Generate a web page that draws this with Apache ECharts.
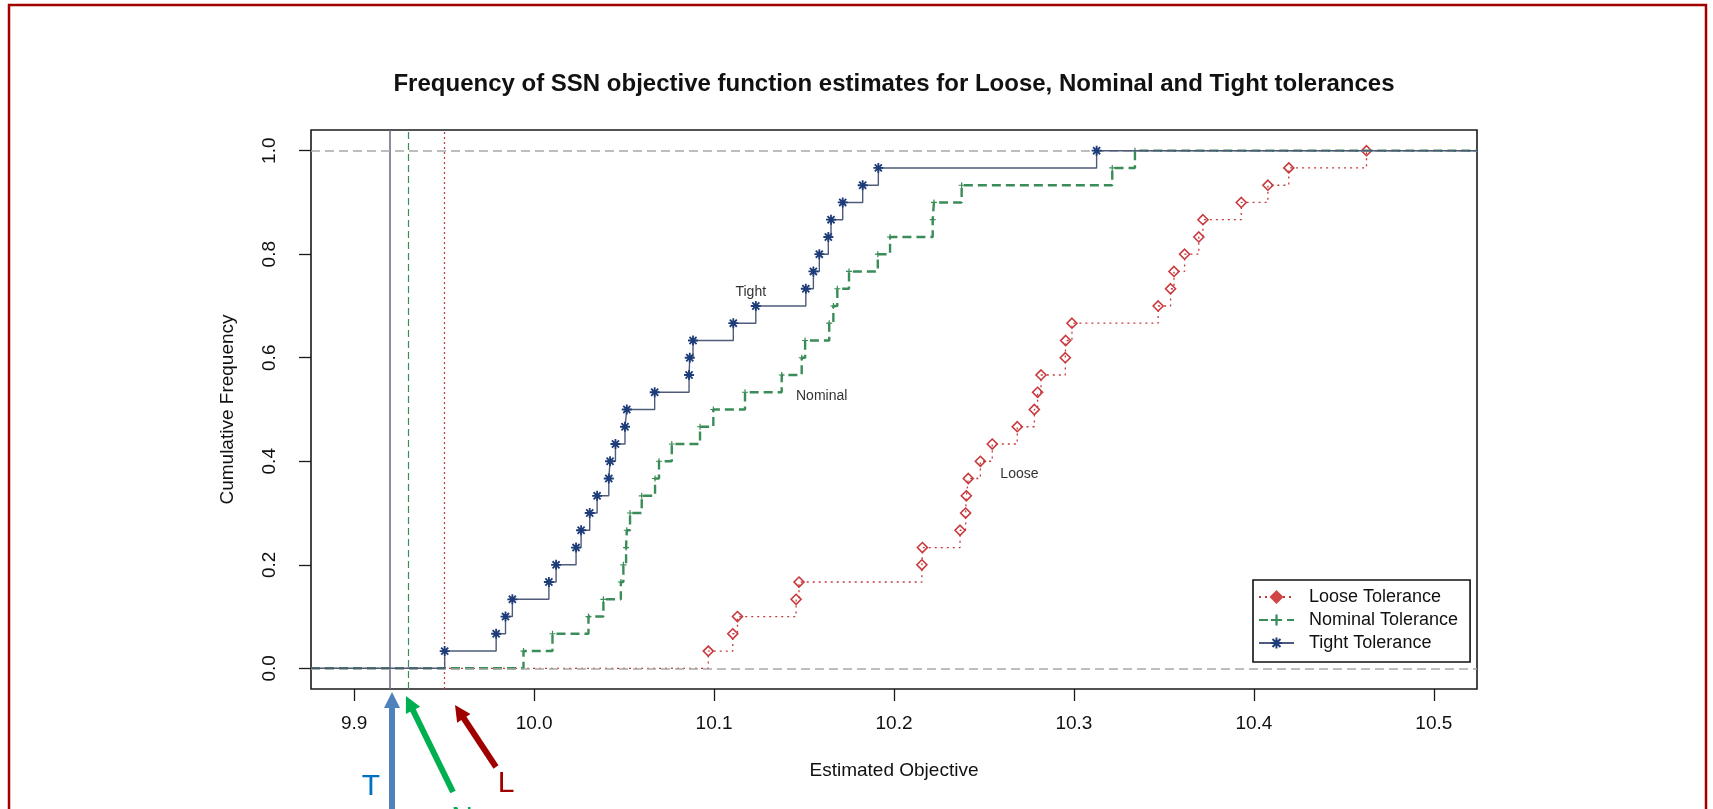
<!DOCTYPE html>
<html><head><meta charset="utf-8">
<script src="https://cdn.jsdelivr.net/npm/echarts@6/dist/echarts.min.js"></script>
<style>html,body{margin:0;padding:0;background:#fff}#c{width:1713px;height:809px}</style>
</head><body><div id="c"></div>
<script>
// ---------- data ----------
const titleText = 'Frequency of SSN objective function estimates for Loose, Nominal and Tight tolerances';
const xTicks = [9.9, 10.0, 10.1, 10.2, 10.3, 10.4, 10.5];
const yTicks = [0, 0.2, 0.4, 0.6, 0.8, 1.0];
const xRange = [9.876, 10.524];
const yRange = [-0.04, 1.04];
const cumFreq = [0.0333, 0.0667, 0.1, 0.1333, 0.1667, 0.2, 0.2333, 0.2667, 0.3, 0.3333,
                 0.3667, 0.4, 0.4333, 0.4667, 0.5, 0.5333, 0.5667, 0.6, 0.6333, 0.6667,
                 0.7, 0.7333, 0.7667, 0.8, 0.8333, 0.8667, 0.9, 0.9333, 0.9667, 1.0];
const looseX = [10.0968, 10.1104, 10.1130, 10.1456, 10.1472, 10.2155, 10.2158, 10.2367, 10.2398, 10.2402,
                10.2413, 10.2480, 10.2546, 10.2685, 10.2780, 10.2798, 10.2817, 10.2952, 10.2954, 10.2989,
                10.3468, 10.3537, 10.3556, 10.3615, 10.3694, 10.3717, 10.3930, 10.4078, 10.4194, 10.4626];
const nominalX = [9.9941, 10.0102, 10.0302, 10.0385, 10.0482, 10.0496, 10.0511, 10.0515, 10.0533, 10.0598,
                  10.0672, 10.0694, 10.0765, 10.0922, 10.0996, 10.1172, 10.1376, 10.1487, 10.1506, 10.1640,
                  10.1663, 10.1685, 10.1750, 10.1910, 10.1978, 10.2215, 10.2222, 10.2376, 10.3213, 10.3339];
const tightX = [9.9503, 9.9789, 9.9841, 9.9879, 10.0082, 10.0122, 10.0233, 10.0261, 10.0309, 10.0350,
                10.0415, 10.0422, 10.0452, 10.0505, 10.0515, 10.0670, 10.0861, 10.0865, 10.0883, 10.1107,
                10.1232, 10.1510, 10.1552, 10.1585, 10.1635, 10.1650, 10.1715, 10.1826, 10.1913, 10.3126];
const seriesNames = ['Loose Tolerance', 'Nominal Tolerance', 'Tight Tolerance'];
const curveLabels = ['Loose', 'Nominal', 'Tight'];
const curveLabelPos = [[10.2697, 0.375], [10.1598, 0.525], [10.1204, 0.727]];
const startLines = [9.951, 9.9274, 9.923];   // L, N, T vertical reference lines
const arrowLetters = ['T', 'N', 'L'];
const refLevels = [0, 1];
const axisNames = ['Estimated Objective', 'Cumulative Frequency'];

// ---------- styling ----------
const FONT = '"Liberation Sans", Arial, Helvetica, sans-serif';
const colLooseLine = '#c23a3a', colLooseMark = '#c8383c';
const colNomLine = '#3a8c58', colNomMark = '#3a8c58';
const colTightLine = '#4e5b7a', colTightMark = '#1d3c78';
const starPath = 'path://M-0.9,-5L0.9,-5L0.9,5L-0.9,5Z M-5,-0.9L5,-0.9L5,0.9L-5,0.9Z ' +
  'M-2.9,-4.18L4.18,2.9L2.9,4.18L-4.18,-2.9Z M-4.18,2.9L2.9,-4.18L4.18,-2.9L-2.9,4.18Z';
const plusPath = 'path://M-0.8,-4L0.8,-4L0.8,4L-0.8,4Z M-4,-0.8L4,-0.8L4,0.8L-4,0.8Z';

function ecdfData(xs) {
  const d = [{ value: [xRange[0], 0], symbol: 'none' }];
  xs.forEach((x, i) => d.push([x, cumFreq[i]]));
  d.push({ value: [xRange[1], cumFreq[cumFreq.length - 1]], symbol: 'none' });
  return d;
}

const chart = echarts.init(document.getElementById('c'), null, { renderer: 'canvas' });
const option = {
  animation: false,
  backgroundColor: '#ffffff',
  title: {
    text: titleText, left: 894, top: 72, textAlign: 'center', padding: 0,
    textStyle: { fontFamily: FONT, fontSize: 24, fontWeight: 'bold', color: '#111' }
  },
  grid: { left: 311, top: 130, width: 1166, height: 559, show: true, borderColor: '#1a1a1a', borderWidth: 1.6, backgroundColor: 'transparent' },
  xAxis: {
    type: 'value', min: xRange[0], max: xRange[1],
    axisLine: { show: false, onZero: false },
    axisTick: { show: true, customValues: xTicks, length: 12, inside: false, lineStyle: { color: '#1a1a1a', width: 1.3 } },
    axisLabel: { customValues: xTicks, formatter: v => v.toFixed(1), fontFamily: FONT, fontSize: 19, color: '#111', margin: 25 },
    splitLine: { show: false },
    name: axisNames[0], nameLocation: 'middle', nameGap: 72,
    nameTextStyle: { fontFamily: FONT, fontSize: 19, color: '#111' }
  },
  yAxis: {
    type: 'value', min: yRange[0], max: yRange[1],
    axisLine: { show: false, onZero: false },
    axisTick: { show: true, customValues: yTicks, length: 12, inside: false, lineStyle: { color: '#1a1a1a', width: 1.3 } },
    axisLabel: { customValues: yTicks, rotate: 90, formatter: v => v.toFixed(1), fontFamily: FONT, fontSize: 19, color: '#111', margin: 32 },
    splitLine: { show: false },
    name: axisNames[1], nameLocation: 'middle', nameGap: 74, nameRotate: 90,
    nameTextStyle: { fontFamily: FONT, fontSize: 19, color: '#111' }
  },
  legend: {
    orient: 'vertical', left: 1253, top: 580, selectedMode: false,
    data: [
      { name: seriesNames[0], itemStyle: { color: '#d04545', borderColor: '#d04545' } },
      { name: seriesNames[1] },
      { name: seriesNames[2] }
    ],
    padding: [8, 12, 10, 5], itemGap: 5, itemWidth: 35, itemHeight: 14,
    borderColor: '#111', borderWidth: 1.6, backgroundColor: '#fff',
    textStyle: { fontFamily: FONT, fontSize: 18, color: '#111', padding: [0, 0, 0, 10] }
  },
  series: [
    {
      name: seriesNames[0], type: 'line', step: 'end', data: ecdfData(looseX),
      symbol: 'diamond', symbolSize: 10, showAllSymbol: true,
      lineStyle: { color: colLooseLine, width: 1.3, type: [2, 4] },
      itemStyle: { color: 'rgba(255,255,255,0)', borderColor: colLooseMark, borderWidth: 1.6 },
      z: 3,
      markLine: {
        silent: true, symbol: 'none', label: { show: false },
        data: [{ xAxis: startLines[0], lineStyle: { color: colLooseLine, type: [2, 3], width: 1.2 } }]
      }
    },
    {
      name: seriesNames[1], type: 'line', step: 'end', data: ecdfData(nominalX),
      symbol: plusPath, symbolSize: 6, showAllSymbol: true,
      lineStyle: { color: colNomLine, width: 2.4, type: [9, 5] },
      itemStyle: { color: colNomMark },
      z: 4,
      markLine: {
        silent: true, symbol: 'none', label: { show: false },
        data: [{ xAxis: startLines[1], lineStyle: { color: colNomLine, type: [7, 4], width: 1.2 } }]
      }
    },
    {
      name: seriesNames[2], type: 'line', step: 'end', data: ecdfData(tightX),
      symbol: starPath, symbolSize: 10, showAllSymbol: true,
      lineStyle: { color: colTightLine, width: 1.4, type: 'solid' },
      itemStyle: { color: colTightMark },
      z: 5,
      markLine: {
        silent: true, symbol: 'none', label: { show: false },
        data: [
          { xAxis: startLines[2], lineStyle: { color: '#6b7089', type: 'solid', width: 1.6 } },
          { yAxis: refLevels[0], lineStyle: { color: '#a8a8a8', type: [9, 5], width: 1.5 } },
          { yAxis: refLevels[1], lineStyle: { color: '#a8a8a8', type: [9, 5], width: 1.5 } }
        ]
      }
    }
  ]
};
chart.setOption(option);

// ---------- annotations (curve names, frame, arrows) ----------
function arrow(tail, tip, color, w, headLen, headHalf) {
  const dx = tip[0] - tail[0], dy = tip[1] - tail[1];
  const len = Math.hypot(dx, dy), ux = dx / len, uy = dy / len;
  const bx = tip[0] - ux * headLen, by = tip[1] - uy * headLen;
  const px = -uy, py = ux;
  return [
    { type: 'line', shape: { x1: tail[0], y1: tail[1], x2: bx + ux * 1, y2: by + uy * 1 }, style: { stroke: color, lineWidth: w }, z: 100 },
    { type: 'polygon', shape: { points: [tip, [bx + px * headHalf, by + py * headHalf], [bx - px * headHalf, by - py * headHalf]] }, style: { fill: color }, z: 100 }
  ];
}
const g = [];
curveLabels.forEach((t, i) => {
  const p = chart.convertToPixel({ xAxisIndex: 0, yAxisIndex: 0 }, curveLabelPos[i]);
  g.push({ type: 'text', x: p[0], y: p[1], style: { text: t, font: '14px ' + FONT, fill: '#333', textAlign: 'center', textVerticalAlign: 'middle' }, z: 50 });
});
g.push({ type: 'rect', shape: { x: 9, y: 5, width: 1697, height: 840 }, style: { fill: 'none', stroke: '#a00000', lineWidth: 2.5 }, z: 100 });
g.push(...arrow([392, 820], [392, 692], '#4f81bd', 6, 16, 8));
g.push(...arrow([453, 792], [406, 696], '#00b050', 6, 16, 8));
g.push(...arrow([496, 767], [455, 705], '#a00000', 6, 16, 8));
const letterStyle = [[371, 787, '#0070c0'], [462, 819, '#00b050'], [506, 784, '#a00000']];
arrowLetters.forEach((t, i) => {
  g.push({ type: 'text', x: letterStyle[i][0], y: letterStyle[i][1], style: { text: t, font: '30px ' + FONT, fill: letterStyle[i][2], textAlign: 'center', textVerticalAlign: 'middle' }, z: 100 });
});
chart.setOption({ graphic: g });
</script>
</body></html>
